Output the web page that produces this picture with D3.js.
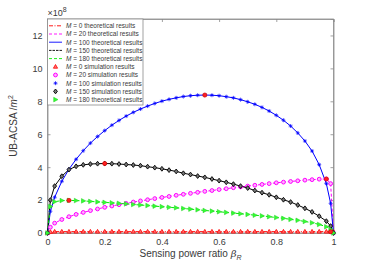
<!DOCTYPE html>
<html><head><meta charset="utf-8">
<script src="https://cdn.jsdelivr.net/npm/d3@7"></script>
<style>body{margin:0;background:#fff}svg{display:block;font-family:"Liberation Sans",Arial,sans-serif}</style>
</head><body><svg id="c" width="368" height="264"></svg>
<script>
const betaR = [0,0.01,0.025,0.05,0.075,0.1,0.125,0.15,0.175,0.2,0.225,0.25,0.275,0.3,0.325,0.35,0.375,0.4,0.425,0.45,0.475,0.5,0.525,0.55,0.575,0.6,0.625,0.65,0.675,0.7,0.725,0.75,0.775,0.8,0.825,0.85,0.875,0.9,0.925,0.95,0.975,0.99,1];
const m0   = [0,0.06,0.08,0.08,0.08,0.08,0.08,0.08,0.08,0.08,0.08,0.08,0.08,0.08,0.08,0.08,0.08,0.08,0.08,0.08,0.08,0.08,0.08,0.08,0.08,0.08,0.08,0.08,0.08,0.08,0.08,0.08,0.08,0.08,0.08,0.08,0.08,0.08,0.08,0.08,0.08,0.08,0.06];
const m20  = [0,0.35,0.6,0.82,0.99,1.13,1.25,1.36,1.46,1.56,1.64,1.72,1.80,1.88,1.95,2.02,2.09,2.16,2.22,2.29,2.35,2.41,2.47,2.53,2.58,2.64,2.69,2.75,2.80,2.85,2.90,2.95,3.00,3.05,3.09,3.13,3.17,3.21,3.24,3.27,3.28,3.0,0];
const m100 = [0,1.32,2.17,3.14,3.87,4.48,5.00,5.46,5.86,6.22,6.55,6.84,7.10,7.33,7.53,7.71,7.87,8.01,8.12,8.21,8.29,8.34,8.37,8.38,8.37,8.34,8.28,8.21,8.10,7.97,7.82,7.63,7.41,7.15,6.85,6.50,6.08,5.59,4.98,4.15,3.0,1.8,0];
const m150 = [0,2.0,2.85,3.45,3.85,4.05,4.14,4.19,4.21,4.22,4.21,4.19,4.16,4.13,4.09,4.03,3.97,3.90,3.82,3.74,3.63,3.55,3.46,3.38,3.28,3.18,3.08,2.97,2.85,2.73,2.58,2.45,2.32,2.17,2.02,1.88,1.70,1.50,1.28,1.02,0.72,0.42,0];
const m180 = [0,1.6,1.9,1.97,1.98,1.97,1.95,1.92,1.89,1.86,1.83,1.80,1.77,1.73,1.70,1.67,1.63,1.60,1.56,1.53,1.49,1.45,1.41,1.37,1.33,1.29,1.25,1.21,1.17,1.13,1.08,1.04,0.99,0.94,0.89,0.83,0.77,0.70,0.62,0.52,0.38,0.22,0];
const optX = [0.99,0.975,0.55,0.2,0.075];
const optY = [0.08,3.28,8.38,4.22,1.98];
const xTicks = [0,0.2,0.4,0.6,0.8,1];
const yTicks = [0,2,4,6,8,10,12];
const legendLabels = ["0 theoretical results","20 theoretical results","100 theoretical results","150 theoretical results","180 theoretical results","0 simulation results","20 simulation results","100 simulation results","150 simulation results","180 theoretical results"];

const svg = d3.select("#c");
const L=47.5,R=333.5,T=19,B=233;
const x = d3.scaleLinear().domain([0,1]).range([L,R]);
const y = d3.scaleLinear().domain([0,13]).range([B,T]);
const axCol="#8a8a8a", txtCol="#3a3a3a";

svg.append("rect").attr("x",L).attr("y",T).attr("width",R-L).attr("height",B-T).attr("fill","#fff").attr("stroke",axCol).attr("stroke-width",0.8);
const gx = svg.append("g").attr("transform",`translate(0,${B})`).call(d3.axisBottom(x).tickValues(xTicks).tickSize(-3).tickPadding(6).tickFormat(d3.format("~g")));
const gy = svg.append("g").attr("transform",`translate(${L},0)`).call(d3.axisLeft(y).tickValues(yTicks).tickSize(-3).tickPadding(5));
const gx2 = svg.append("g").attr("transform",`translate(0,${T})`).call(d3.axisTop(x).tickValues(xTicks).tickSize(-3).tickFormat(""));
const gy2 = svg.append("g").attr("transform",`translate(${R},0)`).call(d3.axisRight(y).tickValues(yTicks).tickSize(-3).tickFormat(""));
[gx,gy,gx2,gy2].forEach(g=>{g.select(".domain").attr("stroke",axCol).attr("stroke-width",0.8);g.selectAll(".tick line").attr("stroke",axCol).attr("stroke-width",0.8);g.selectAll("text").attr("fill",txtCol).style("font-size","9px").style("font-family","Liberation Sans, Arial, sans-serif");});

const ex = svg.append("text").attr("x",L).attr("y",16).attr("fill",txtCol).style("font-size","9px");
ex.append("tspan").text("×10");
ex.append("tspan").attr("dy",-4).style("font-size","7px").text("8");

const xl = svg.append("text").attr("x",(L+R)/2).attr("y",257).attr("text-anchor","middle").attr("fill",txtCol).style("font-size","10px");
xl.append("tspan").text("Sensing power ratio ");
xl.append("tspan").style("font-style","italic").style("font-family","DejaVu Serif, serif").text("β");
xl.append("tspan").attr("dy",3).style("font-size","7px").style("font-style","italic").text("R");
const yl = svg.append("text").attr("transform",`translate(17,${(T+B)/2}) rotate(-90)`).attr("text-anchor","middle").attr("fill",txtCol).style("font-size","10px");
yl.append("tspan").text("UB-ACSA /");
yl.append("tspan").style("font-style","italic").text("m");
yl.append("tspan").attr("dy",-4).style("font-size","7px").text("2");

const series = [
  {v:m0,  c:"#ff0000", dash:"4,1.5,1,1.5", mk:"tri"},
  {v:m20, c:"#ff00ff", dash:"3,2", mk:"circ"},
  {v:m100,c:"#0000ff", dash:null, mk:"star"},
  {v:m150,c:"#000000", dash:null, mk:"diam"},
  {v:m180,c:"#00ee00", dash:"3,2", mk:"rtri"}
];
const line = d3.line().x((d,i)=>x(betaR[i])).y(d=>y(d));

function marker(g,type,c,px,py){
  if(type==="tri") g.append("path").attr("d",`M${px},${py-2.3}L${px+2.1},${py+1.4}L${px-2.1},${py+1.4}Z`).attr("fill","#ff7070").attr("stroke",c).attr("stroke-width",0.8);
  else if(type==="circ") g.append("circle").attr("cx",px).attr("cy",py).attr("r",1.9).attr("fill","#ffb0ff").attr("stroke",c).attr("stroke-width",1);
  else if(type==="star") g.append("path").attr("d",`M${px-2},${py}H${px+2}M${px},${py-2}V${py+2}M${px-1.3},${py-1.3}L${px+1.3},${py+1.3}M${px-1.3},${py+1.3}L${px+1.3},${py-1.3}`).attr("stroke",c).attr("stroke-width",0.7).attr("fill","none");
  else if(type==="diam") g.append("path").attr("d",`M${px},${py-2.4}L${px+1.9},${py}L${px},${py+2.4}L${px-1.9},${py}Z`).attr("fill","#777").attr("stroke",c).attr("stroke-width",0.9);
  else if(type==="rtri") g.append("path").attr("d",`M${px+2.5},${py}L${px-1.8},${py-2.3}L${px-1.8},${py+2.3}Z`).attr("fill","#33ff33").attr("stroke","#22cc22").attr("stroke-width",0.5);
}

const plot = svg.append("g");
series.forEach(s=>{
  plot.append("path").datum(s.v).attr("d",line).attr("fill","none").attr("stroke",s.c).attr("stroke-width",1).attr("stroke-dasharray",s.dash);
});
series.forEach(s=>{
  const g = plot.append("g");
  s.v.forEach((d,i)=>marker(g,s.mk,s.c,x(betaR[i]),y(d)));
});
optX.forEach((d,i)=>plot.append("circle").attr("cx",x(d)).attr("cy",y(optY[i])).attr("r",2.1).attr("fill","#ff2020").attr("stroke","#cc0000").attr("stroke-width",0.6));

const lg = svg.append("g");
lg.append("rect").attr("x",L).attr("y",T).attr("width",95.5).attr("height",86).attr("fill","#fff").attr("stroke",axCol).attr("stroke-width",0.8);
legendLabels.forEach((t,i)=>{
  const yy = T+6.8+i*8.2;
  if(i<5){
    const s=series[i];
    lg.append("line").attr("x1",49).attr("x2",62).attr("y1",yy).attr("y2",yy).attr("stroke",s.c).attr("stroke-width",0.9).attr("stroke-dasharray",i===3?"2.5,1":s.dash);
  } else {
    marker(lg,series[i-5].mk,series[i-5].c,55.5,yy);
  }
  const tx = lg.append("text").attr("x",66).attr("y",yy+2.3).attr("fill",txtCol).style("font-size","6.5px");
  tx.append("tspan").style("font-style","italic").text("M");
  tx.append("tspan").text(" = "+t);
});
</script></body></html>
